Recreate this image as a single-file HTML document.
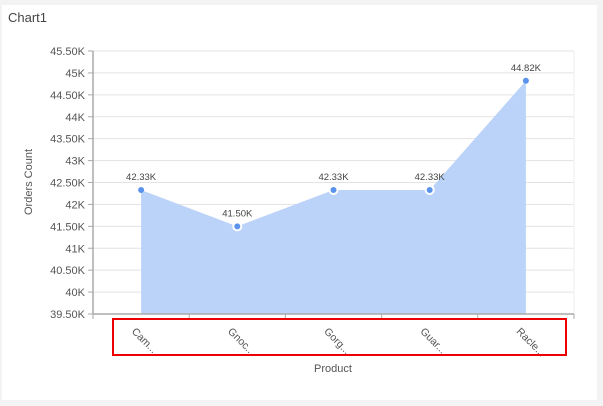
<!DOCTYPE html>
<html><head><meta charset="utf-8"><style>
body{margin:0;background:#f3f3f3;font-family:"Liberation Sans",sans-serif}
#card{position:absolute;left:2px;top:5px;width:595px;height:395px;background:#fff}
</style></head><body>
<div id="card"></div>
<svg id="c" width="603" height="406" style="position:absolute;left:0;top:0">
<text x="8" y="22" font-size="13" fill="#444">Chart1</text>
</svg>
<script>
const categories=["Cam...","Gnoc...","Gorg...","Guar...","Racle..."];
const values=[42330,41500,42330,42330,44820];
const valueLabels=["42.33K","41.50K","42.33K","42.33K","44.82K"];
const yTicks=[39500,40000,40500,41000,41500,42000,42500,43000,43500,44000,44500,45000,45500];
const yTickLabels=["39.50K","40K","40.50K","41K","41.50K","42K","42.50K","43K","43.50K","44K","44.50K","45K","45.50K"];
const svg=document.getElementById('c'),NS='http://www.w3.org/2000/svg';
const L=93,R=574,T=51,B=314,ymin=39500,ymax=45500;
const y=v=>B-(v-ymin)/(ymax-ymin)*(B-T);
const bw=(R-L)/categories.length;
const x=i=>L+bw*(i+0.5);
function mk(t,a,p){const e=document.createElementNS(NS,t);for(const k in a)e.setAttribute(k,a[k]);(p||svg).appendChild(e);return e;}
yTicks.forEach((v,i)=>{
 const g=mk('line',{x1:L,x2:R,y1:y(v),y2:y(v),stroke:i==0?'#aaa':'#e3e3e3'});
 
 
 mk('line',{x1:L-5,x2:L,y1:y(v),y2:y(v),stroke:'#aaa'});
 const t=mk('text',{x:L-8,y:y(v)+4,'text-anchor':'end','font-size':'11',fill:'#555'});
 t.textContent=yTickLabels[i];
 
 
});
mk('line',{x1:R,x2:R,y1:T,y2:B,stroke:'#eee'});
let d='M'+x(0)+','+B;
values.forEach((v,i)=>d+=' L'+x(i)+','+y(v));
d+=' L'+x(values.length-1)+','+B+' Z';
const area=mk('path',{d:d,fill:'#bcd3f9'});


mk('line',{x1:L,x2:L,y1:T,y2:B,stroke:'#aaa','stroke-width':'1.5'});
mk('line',{x1:L,x2:R,y1:B,y2:B,stroke:'#aaa','stroke-width':'1.5'});
for(let i=0;i<=categories.length;i++)mk('line',{x1:L+bw*i,x2:L+bw*i,y1:B,y2:B+5,stroke:'#aaa'});
values.forEach((v,i)=>{
 const edge=i==0||i==values.length-1;
 const c=mk('circle',{cx:x(i),cy:y(v),r:edge?3:4,fill:'#5b93ec',stroke:edge?'none':'#fff','stroke-width':'2'});
 
 
 const t=mk('text',{x:x(i),y:y(v)-10,'text-anchor':'middle','font-size':'9.5',fill:'#444'});
 t.textContent=valueLabels[i];
 
 
});
categories.forEach((c,i)=>{
 const t=mk('text',{x:x(i)-10,y:B+18,'font-size':'10.5',fill:'#555',transform:'rotate(45 '+(x(i)-10)+' '+(B+18)+')'});
 t.textContent=c;
 
 
});
const box=mk('rect',{x:113,y:319,width:453,height:36,fill:'none',stroke:'#e00','stroke-width':'2'});


const xt=mk('text',{x:333,y:372,'text-anchor':'middle','font-size':'11',fill:'#555'});
xt.textContent='Product';


const yt=mk('text',{x:32,y:182,'text-anchor':'middle','font-size':'11',fill:'#555',transform:'rotate(-90 32 182)'});
yt.textContent='Orders Count';


</script>
</body></html>
